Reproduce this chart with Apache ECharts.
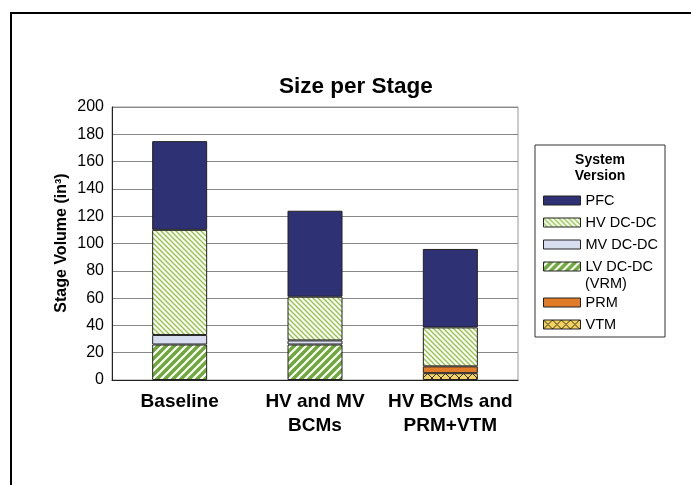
<!DOCTYPE html>
<html>
<head>
<meta charset="utf-8">
<script src="https://cdn.jsdelivr.net/npm/echarts@6/dist/echarts.min.js"></script>
<style>
html,body{margin:0;padding:0;background:#fff;}
#chart{width:691px;height:485px;}
</style>
</head>
<body>
<div id="chart"></div>
<script>
var categories = ['Baseline', 'HV and MV\nBCMs', 'HV BCMs and\nPRM+VTM'];
var pfc = [65, 63, 57.5];
var hvDcDc = [77, 32, 28.5];
var mvDcDc = [7, 3, null];
var lvDcDc = [26, 26, null];
var prm = [null, null, 5];
var vtm = [null, null, 5];
var yTicks = [0, 20, 40, 60, 80, 100, 120, 140, 160, 180, 200];
var yAxisTitle = 'Stage Volume (in³)';

function makeTile(size, bg, fg, lw, dirs) {
  var c = document.createElement('canvas');
  c.width = size; c.height = size;
  var ctx = c.getContext('2d');
  ctx.fillStyle = bg; ctx.fillRect(0, 0, size, size);
  ctx.strokeStyle = fg; ctx.lineWidth = lw;
  dirs.forEach(function (d) {
    for (var k = -size; k <= size; k += size) {
      ctx.beginPath();
      if (d === '\\') { ctx.moveTo(k - 1, -1); ctx.lineTo(k + size + 1, size + 1); }
      else { ctx.moveTo(k - 1, size + 1); ctx.lineTo(k + size + 1, -1); }
      ctx.stroke();
    }
  });
  return c;
}
var hvPattern = { image: makeTile(5, '#ffffff', '#95c84a', 1.5, ['\\']), repeat: 'repeat' };
var lvPattern = { image: makeTile(8, '#ffffff', '#6fa83c', 3.6, ['/']), repeat: 'repeat' };
var vtmPattern = { image: makeTile(9, '#f3d35f', '#3a3020', 1, ['/', '\\']), repeat: 'repeat' };

var chart = echarts.init(document.getElementById('chart'));
var border = { borderColor: '#222', borderWidth: 1 };
function mk(name, data, color) {
  return {
    name: name, type: 'bar', stack: 'total', data: data, barWidth: 55,
    itemStyle: Object.assign({ color: color }, border)
  };
}
var font = 'Liberation Sans, Arial, sans-serif';
var legendText = { fontSize: 14.5, color: '#000', fontFamily: font, lineHeight: 15 };
chart.setOption({
  animation: false,
  textStyle: { fontFamily: font },
  title: {
    text: 'Size per Stage', left: 274, top: 70,
    textStyle: { fontSize: 22.5, fontWeight: 'bold', color: '#000', fontFamily: font }
  },
  grid: { left: 112, right: 173, top: 107, bottom: 105, show: true, borderColor: '#999', borderWidth: 1 },
  xAxis: {
    type: 'category', data: categories,
    axisLine: { lineStyle: { color: '#222', width: 1 } },
    axisTick: { show: false },
    axisLabel: { interval: 0, hideOverlap: false, fontSize: 19, fontWeight: 'bold', color: '#000', margin: 10, lineHeight: 24, fontFamily: font }
  },
  yAxis: {
    type: 'value', min: yTicks[0], max: yTicks[yTicks.length - 1], interval: 20,
    axisLine: { show: true, lineStyle: { color: '#222', width: 1 } },
    axisTick: { show: false },
    axisLabel: { fontSize: 16, color: '#000', margin: 8, fontFamily: font },
    splitLine: { lineStyle: { color: '#888', width: 1 } }
  },
  legend: [{
    orient: 'vertical', left: 543, top: 193, padding: 0, icon: 'rect',
    itemWidth: 37, itemHeight: 9, itemGap: 7,
    data: ['PFC', 'HV DC-DC', 'MV DC-DC', 'LV DC-DC'],
    textStyle: legendText,
    itemStyle: { borderColor: '#222', borderWidth: 1 }
  }, {
    orient: 'vertical', left: 543, top: 295, padding: 0, icon: 'rect',
    itemWidth: 37, itemHeight: 9, itemGap: 7,
    data: ['PRM', 'VTM'],
    textStyle: legendText,
    itemStyle: { borderColor: '#222', borderWidth: 1 }
  }],
  graphic: [
    { type: 'rect', shape: { x: 11, y: 13, width: 720, height: 520 }, style: { fill: 'none', stroke: '#000', lineWidth: 2 }, silent: true },
    { type: 'rect', shape: { x: 535, y: 145, width: 130, height: 192 }, style: { fill: 'none', stroke: '#333', lineWidth: 1 }, silent: true },
    { type: 'text', x: 600, y: 152, style: { text: 'System\nVersion', fill: '#000', align: 'center', lineHeight: 16, font: 'bold 14px Liberation Sans, Arial, sans-serif' } },
    { type: 'text', x: 585, y: 276, style: { text: '(VRM)', fill: '#000', font: '14.5px Liberation Sans, Arial, sans-serif' } },
    { type: 'text', x: 62, y: 243, rotation: Math.PI / 2, style: { text: yAxisTitle, fill: '#000', align: 'center', verticalAlign: 'middle', font: 'bold 16px Liberation Sans, Arial, sans-serif' } }
  ],
  series: [
    mk('VTM', vtm, vtmPattern),
    mk('PRM', prm, '#e07b27'),
    mk('LV DC-DC', lvDcDc, lvPattern),
    mk('MV DC-DC', mvDcDc, '#d8def0'),
    mk('HV DC-DC', hvDcDc, hvPattern),
    mk('PFC', pfc, '#2e3173')
  ]
});
</script>
</body>
</html>
